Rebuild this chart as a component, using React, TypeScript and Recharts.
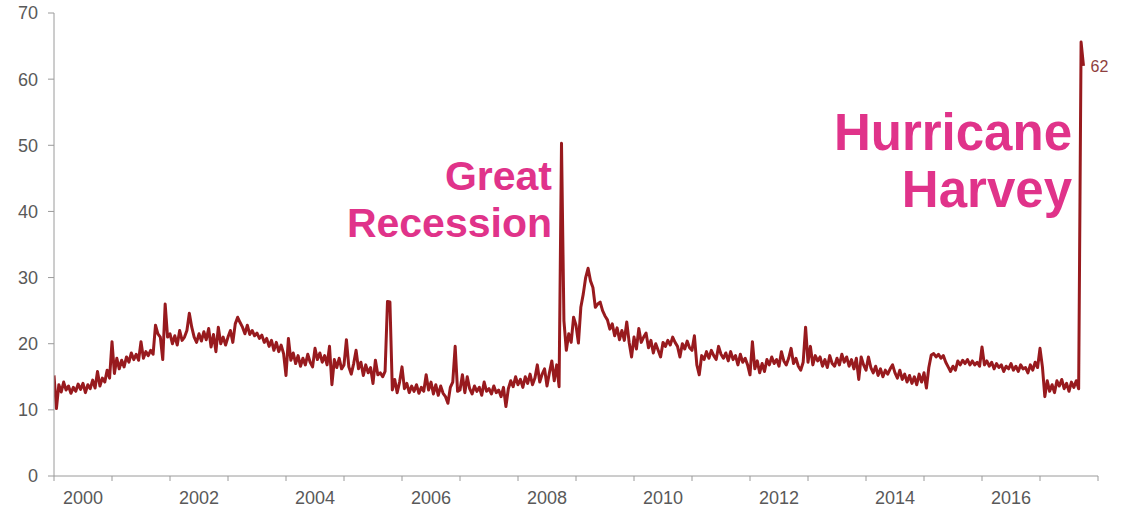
import React from "react";
import { LineChart, Line, XAxis, YAxis, LabelList } from "recharts";

// ---- data (semi-monthly readings, thousands) ----
const YEARS = [2000, 2001, 2002, 2003, 2004, 2005, 2006, 2007, 2008, 2009, 2010, 2011, 2012, 2013, 2014, 2015, 2016, 2017];

const claims2000 = [15.2, 10.2, 13.8, 12.7, 14.2, 13, 13.6, 12.5, 13.4, 12.8, 13.9, 13.1, 14, 12.6, 13.8, 13.2, 14.5, 13.3, 15.8, 13.6, 14.8, 14.2, 16, 14.8];
const claims2001 = [20.3, 15.5, 17.8, 16.2, 17.5, 16.5, 18, 17.2, 18.6, 17.6, 18.4, 17.5, 20.3, 17.8, 18.8, 18.2, 19, 18.4, 22.8, 21.5, 21, 17.6, 26, 21];
const claims2002 = [21.5, 20, 21.2, 19.8, 22, 20.5, 21, 22, 24.6, 22.5, 21, 20.2, 21.5, 20.4, 21.8, 20.6, 22.3, 19.5, 21.4, 18.8, 22.5, 20, 21, 19.8];
const claims2003 = [21, 22, 20.2, 23, 24, 23.2, 22.5, 21.5, 22.8, 21.4, 22, 21.2, 21.6, 20.8, 21.3, 20.2, 20.8, 19.6, 20.5, 19, 20.2, 18.8, 19.8, 18.5];
const claims2004 = [15.2, 20.8, 17.5, 18.6, 17, 18.2, 16.6, 17.8, 16.8, 18.4, 17.2, 16.5, 19.3, 17.6, 18.6, 17.2, 18.2, 16.8, 19.6, 13.8, 17.6, 16.4, 17.8, 16.2];
const claims2005 = [16.8, 20.6, 16.5, 15.4, 17, 19, 16.2, 17.2, 15.2, 16.8, 15.6, 16.4, 14, 17.5, 15.3, 15.6, 15, 15.8, 26.4, 26.3, 13, 14.6, 12.6, 14.2];
const claims2006 = [16.5, 13.2, 14, 12.6, 13.6, 12.8, 13.8, 12.5, 13.4, 12.8, 15.3, 13, 14.2, 12.4, 13.8, 12.2, 13.6, 12.5, 12, 11, 13.4, 14.2, 19.6, 12.8];
const claims2007 = [13, 15.3, 12.6, 15, 13.2, 12.4, 13.6, 12.8, 13.4, 12.2, 14.2, 12.8, 13.2, 12.4, 13.6, 12.6, 13, 12, 13.4, 10.5, 13.2, 14.4, 13.5, 15];
const claims2008 = [13.8, 14.6, 13.4, 15, 14, 15.4, 13.8, 14.8, 16.8, 14.2, 15.4, 16.2, 13.6, 15.6, 17.4, 14.4, 16.8, 13.5, 50.3, 23.5, 19, 21.5, 20.2, 24];
const claims2009 = [22.8, 20.1, 25.5, 27.5, 30, 31.4, 29.5, 28.5, 25.5, 26, 26.3, 25, 24.2, 23.6, 22.2, 23, 21.2, 22.4, 20.6, 22, 20.5, 23.3, 20.2, 18];
const claims2010 = [21, 19.2, 22.3, 20.2, 21, 21.6, 19.4, 20.5, 18.6, 20, 19, 18, 20.2, 19.6, 20.5, 19.8, 21, 20.2, 19.6, 18, 20, 19.2, 20.4, 19.4];
const claims2011 = [19, 21.2, 16.8, 15.3, 18.2, 17.6, 18.8, 17.8, 19, 18.2, 17.6, 19.6, 18.4, 17.8, 18.6, 17.4, 18.8, 17.6, 18.2, 16.8, 18.4, 17.2, 17.8, 16.8];
const claims2012 = [15.3, 20.3, 16.2, 17.4, 15.6, 17, 15.8, 17.6, 16.8, 18, 17, 17.6, 16.6, 18.8, 17.4, 16.8, 17.8, 19.3, 17, 17.8, 16.6, 16, 17.2, 22.5];
const claims2013 = [17.2, 19.6, 16.8, 18.2, 17.4, 18, 16.6, 17.6, 16.4, 18.2, 17, 16.6, 17.8, 16.8, 18.4, 17.2, 18, 16.6, 17.6, 16.2, 17.8, 14.6, 18, 16.8];
const claims2014 = [16, 18, 16.4, 15.6, 16.6, 15.2, 16.2, 15, 16, 15.4, 16.2, 16.8, 15.6, 14.8, 16, 14.6, 15.4, 14.2, 15.2, 14, 15, 13.8, 15.4, 14.2];
const claims2015 = [15.6, 13.3, 16.4, 18.3, 18.5, 18, 18.4, 17.8, 18.2, 17.2, 16.5, 15.8, 16.6, 16, 17.4, 16.8, 17.5, 17, 17.6, 16.8, 17.4, 16.8, 17.2, 16.6];
const claims2016 = [19.5, 16.8, 17.4, 16.6, 17.2, 16.2, 17, 16.4, 16.8, 15.8, 16.6, 16.2, 17, 16, 16.6, 15.8, 16.8, 16.2, 16.4, 15.6, 16.8, 16, 17.2, 16.4];
const claims2017 = [19.3, 16.5, 12, 14.4, 12.8, 13.8, 12.6, 14.4, 13.6, 14.6, 13.2, 14, 12.8, 14.2, 13.4, 14.4, 13.2, 65.6, 62];

const CLAIMS_BY_YEAR = [claims2000, claims2001, claims2002, claims2003, claims2004, claims2005, claims2006, claims2007, claims2008, claims2009, claims2010, claims2011, claims2012, claims2013, claims2014, claims2015, claims2016, claims2017];
const POINTS_PER_YEAR = 24;

const X_TICKS = [2000, 2001, 2002, 2003, 2004, 2005, 2006, 2007, 2008, 2009, 2010, 2011, 2012, 2013, 2014, 2015, 2016, 2017, 2018];
const Y_TICKS = [0, 10, 20, 30, 40, 50, 60, 70];

const data = CLAIMS_BY_YEAR.flatMap((vals, k) =>
  vals.map((v, i) => ({ t: YEARS[k] + i / POINTS_PER_YEAR, claims: v }))
);

// ---- layout ----
const W = 1132;
const H = 507;
const MARGIN = { top: 13, right: 34, bottom: 0, left: 0 };
const Y_AXIS_W = 54;
const X_AXIS_H = 31;
const PLOT_W = W - MARGIN.left - MARGIN.right - Y_AXIS_W;
const HALF_YEAR_PX = PLOT_W / (X_TICKS.length - 1) / 2;

const AXIS_GRAY = "#9a9a9a";
const TEXT_GRAY = "#595959";
const LINE_RED = "#981a1e";
const PINK = "#e0338a";
const FONT = "'Liberation Sans', Arial, sans-serif";

const XTick = (props: any) => {
  const { x, y, payload } = props;
  const yr = payload.value;
  if (yr % 2 !== 0 || yr >= 2018) return null;
  return (
    <text x={x + HALF_YEAR_PX} y={y + 21} textAnchor="middle" fill={TEXT_GRAY} fontSize={18} fontFamily={FONT}>
      {yr}
    </text>
  );
};

const LastLabel = (props: any) => {
  const { x, y, value, index } = props;
  if (index !== data.length - 1) return null;
  return (
    <text x={x + 7} y={y + 6} fill="#8e4040" fontSize={16} fontFamily={FONT}>
      {Math.round(value)}
    </text>
  );
};

export default function App() {
  return (
    <div style={{ position: "absolute", left: 0, top: 0, width: W, height: H, background: "#fff" }}>
      <LineChart width={W} height={H} data={data} margin={MARGIN}>
        <XAxis
          dataKey="t"
          type="number"
          domain={[2000, 2018]}
          ticks={X_TICKS}
          interval={0}
          height={X_AXIS_H}
          tickSize={5}
          stroke={AXIS_GRAY}
          tickLine={{ stroke: AXIS_GRAY }}
          tick={<XTick />}
          allowDataOverflow
        />
        <YAxis
          type="number"
          domain={[0, 70]}
          ticks={Y_TICKS}
          interval={0}
          width={Y_AXIS_W}
          tickSize={6}
          tickMargin={10}
          stroke={AXIS_GRAY}
          tick={{ fill: TEXT_GRAY, fontSize: 18, fontFamily: FONT }}
        />
        <Line
          type="linear"
          dataKey="claims"
          stroke={LINE_RED}
          strokeWidth={3}
          strokeLinejoin="round"
          dot={false}
          isAnimationActive={false}
        >
          <LabelList dataKey="claims" content={<LastLabel />} />
        </Line>
      </LineChart>
      <svg width={W} height={H} style={{ position: "absolute", left: 0, top: 0, pointerEvents: "none" }}>
        <g fill={PINK} fontFamily={FONT} fontWeight="bold" textAnchor="end">
          <text x={552} y={190} fontSize={41}>Great</text>
          <text x={552} y={237} fontSize={41}>Recession</text>
          <text x={1072} y={150} fontSize={51}>Hurricane</text>
          <text x={1072} y={207} fontSize={51}>Harvey</text>
        </g>
      </svg>
    </div>
  );
}
